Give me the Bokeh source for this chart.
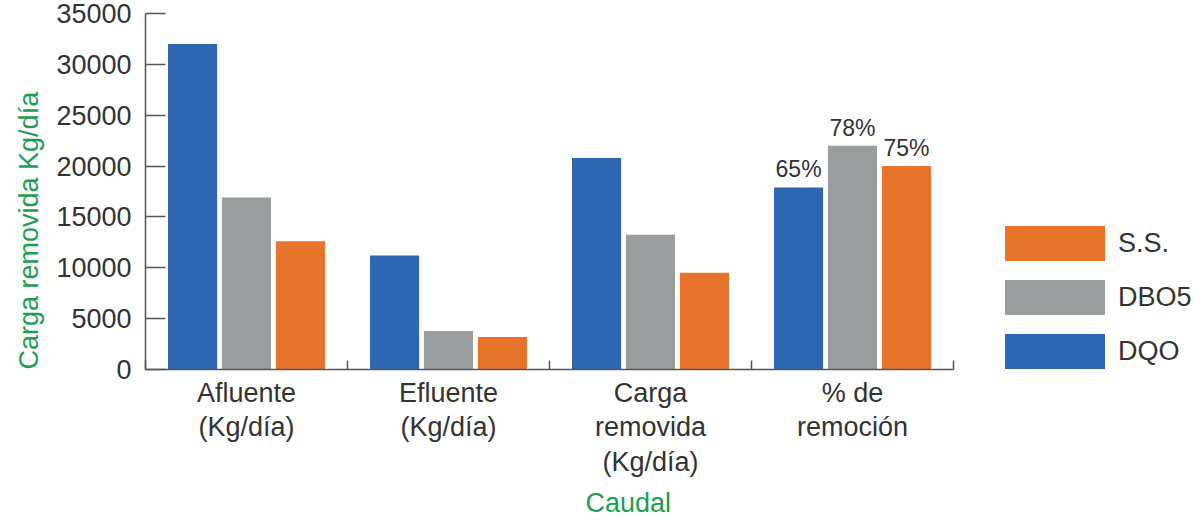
from bokeh.plotting import figure
from bokeh.models import (ColumnDataSource, FixedTicker, Range1d, Legend, LegendItem,
                          LabelSet, Title)
from bokeh.core.properties import value
from bokeh.embed import file_html
from bokeh.resources import INLINE
from bokeh.transform import dodge

# ---- data ----
categories = ["Afluente\n(Kg/día)", "Efluente\n(Kg/día)",
              "Carga\nremovida\n(Kg/día)", "% de\nremoción"]
series = ["DQO", "DBO5", "S.S."]
dqo = [32000, 11200, 20800, 17900]
dbo5 = [16900, 3780, 13250, 22000]
ss = [12600, 3190, 9500, 20000]
pct_labels = ["65%", "78%", "75%"]          # DQO, DBO5, S.S. in "% de remoción"
y_ticks = [0, 5000, 10000, 15000, 20000, 25000, 30000, 35000]

colors = ["#2E67B1", "#9A9D9E", "#E8732A"]
green = "#1E9E50"
FONT = "Liberation Sans"
TXT = "#333333"

n = len(categories)
centers = [i + 0.5 for i in range(n)]
src = ColumnDataSource(dict(x=centers, DQO=dqo, DBO5=dbo5, SS=ss))

W, H, LEFT = 1200, 523, 145
# the category axis covers 808 px of the frame; the rest holds the legend
x_end = n * (W - LEFT) / 808

p = figure(width=W, height=H, output_backend="svg", toolbar_location=None,
           x_range=Range1d(0, x_end), y_range=Range1d(0, 35000),
           min_border_left=LEFT, min_border_right=0, min_border_top=13,
           min_border_bottom=0)
p.outline_line_color = None
p.xgrid.visible = False
p.ygrid.visible = False
p.background_fill_color = "white"
p.border_fill_color = "white"

offsets = [-0.267, 0.0, 0.267]
cols = ["DQO", "DBO5", "SS"]
renderers = []
for col, off, c in zip(cols, offsets, colors):
    r = p.vbar(x=dodge("x", off, range=p.x_range), top=col, width=0.243,
               bottom=0, source=src, fill_color=c, line_color=None)
    renderers.append(r)

# percentage labels on the last group
last = n - 1
lab_src = ColumnDataSource(dict(
    x=[centers[last] + o for o in offsets],
    y=[dqo[last], dbo5[last], ss[last]],
    t=pct_labels))
p.add_layout(LabelSet(x="x", y="y", text="t", source=lab_src, y_offset=5,
                      text_align="center", text_baseline="bottom",
                      text_font=value(FONT), text_font_size=value("23px"),
                      text_color=TXT))

# y axis
ya = p.yaxis[0]
ya.ticker = FixedTicker(ticks=y_ticks)
ya.major_tick_in = 20
ya.major_tick_out = 0
ya.minor_tick_in = 0
ya.minor_tick_out = 0
ya.major_label_standoff = 14
ya.major_label_text_font = FONT
ya.major_label_text_font_size = "27px"
ya.major_label_text_color = TXT
ya.axis_line_color = "#555555"
ya.major_tick_line_color = "#555555"
ya.axis_line_width = 1.5
ya.major_tick_line_width = 1.5

# x axis
xa = p.xaxis[0]
xa.bounds = (0, n)
xa.ticker = FixedTicker(ticks=centers, minor_ticks=list(range(n + 1)))
xa.major_label_overrides = {c: lab for c, lab in zip(centers, categories)}
xa.major_tick_in = 0
xa.major_tick_out = 0
xa.minor_tick_in = 9
xa.minor_tick_out = 0
xa.major_label_standoff = 8
xa.major_label_text_font = FONT
xa.major_label_text_font_size = "27px"
xa.major_label_text_color = TXT
xa.major_label_text_line_height = 1.16
xa.axis_line_color = "#555555"
xa.minor_tick_line_color = "#555555"
xa.axis_line_width = 1.5
xa.minor_tick_line_width = 1.5

# axis titles
p.add_layout(Title(text="Carga removida Kg/día", align="left", offset=0,
                   text_font=FONT, text_font_size="27px", text_font_style="normal",
                   text_color=green, standoff=20), "left")
p.add_layout(Title(text="Caudal", align="left", offset=440,
                   text_font=FONT, text_font_size="27px", text_font_style="normal",
                   text_color=green, standoff=11), "below")

# legend (inside the frame, right of the category axis)
legend = Legend(items=[
    LegendItem(label="S.S.", renderers=[renderers[2]]),
    LegendItem(label="DBO5", renderers=[renderers[1]]),
    LegendItem(label="DQO", renderers=[renderers[0]]),
], location=(847, -4), glyph_width=125, glyph_height=44, spacing=10,
    label_standoff=1, padding=0, margin=0, border_line_color=None,
    background_fill_alpha=0, label_text_font=FONT, label_text_font_size="27px",
    label_text_color=TXT)
p.add_layout(legend, "center")

open("out.html", "w").write(file_html(p, INLINE))
